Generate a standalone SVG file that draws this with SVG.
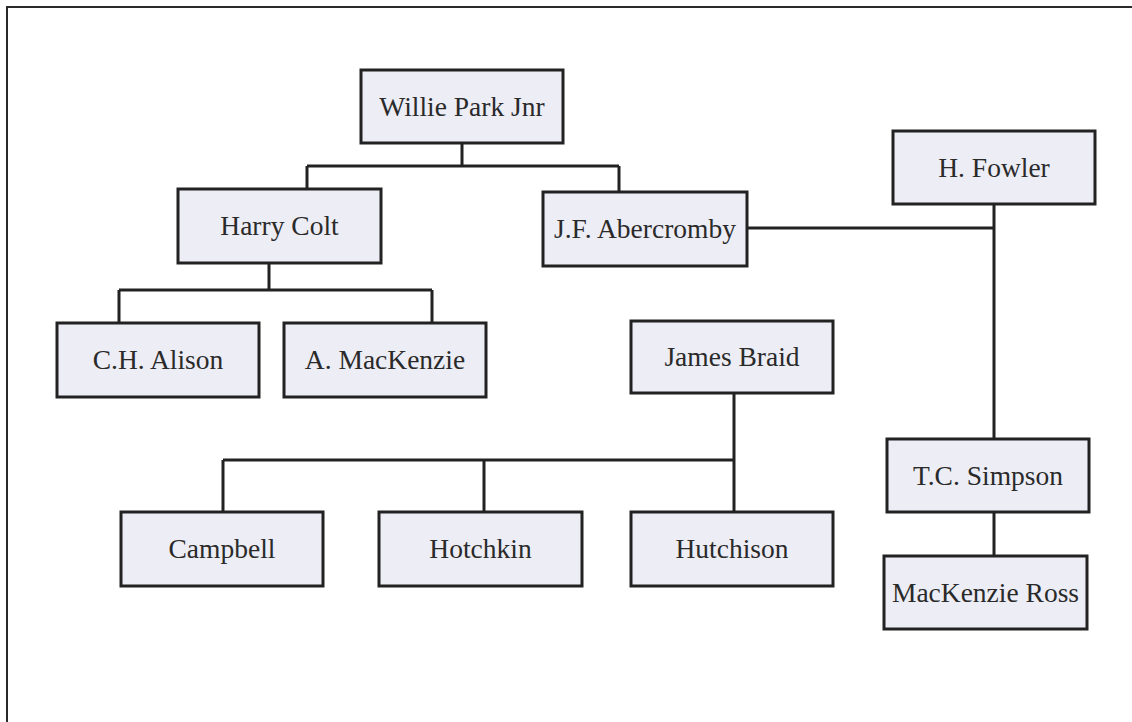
<svg xmlns="http://www.w3.org/2000/svg" width="1132" height="722" viewBox="0 0 1132 722">
<style>
.box{fill:#ededf5;stroke:#222;stroke-width:3}
.lbl{font-family:"Liberation Serif","DejaVu Serif",serif;font-size:27.5px;fill:#2a2a2a;text-anchor:middle}
.con{stroke:#222;stroke-width:3;fill:none}
</style>
<rect x="0" y="0" width="1132" height="722" fill="#fff"/>
<path d="M7 722V7H1132" fill="none" stroke="#2a2a2a" stroke-width="2"/>
<g id="connectors" class="con">
<path d="M462 143V166M307 166H619M307 166V189M619 166V192"/>
<path d="M269 263V290M119 290H432M119 290V323M432 290V323"/>
<path d="M747 228H994M994 204V439M994 512V556"/>
<path d="M734 393V512M223 460H734M223 460V512M484 460V512"/>
</g>
<g id="willie"><rect class="box" x="361" y="70" width="202" height="73"/><text class="lbl" x="462" y="116">Willie Park Jnr</text></g>
<g id="colt"><rect class="box" x="178" y="189" width="203" height="74"/><text class="lbl" x="279.5" y="235">Harry Colt</text></g>
<g id="abercromby"><rect class="box" x="543" y="192" width="204" height="74"/><text class="lbl" x="645" y="238">J.F. Abercromby</text></g>
<g id="fowler"><rect class="box" x="893" y="131" width="202" height="73"/><text class="lbl" x="994" y="177">H. Fowler</text></g>
<g id="alison"><rect class="box" x="57" y="323" width="202" height="74"/><text class="lbl" x="158" y="369">C.H. Alison</text></g>
<g id="mackenzie"><rect class="box" x="284" y="323" width="202" height="74"/><text class="lbl" x="385" y="369">A. MacKenzie</text></g>
<g id="braid"><rect class="box" x="631" y="321" width="202" height="72"/><text class="lbl" x="732" y="366">James Braid</text></g>
<g id="campbell"><rect class="box" x="121" y="512" width="202" height="74"/><text class="lbl" x="222" y="558">Campbell</text></g>
<g id="hotchkin"><rect class="box" x="379" y="512" width="203" height="74"/><text class="lbl" x="480.5" y="558">Hotchkin</text></g>
<g id="hutchison"><rect class="box" x="631" y="512" width="202" height="74"/><text class="lbl" x="732" y="558">Hutchison</text></g>
<g id="simpson"><rect class="box" x="887" y="439" width="202" height="73"/><text class="lbl" x="988" y="485">T.C. Simpson</text></g>
<g id="ross"><rect class="box" x="884" y="556" width="203" height="73"/><text class="lbl" x="985.5" y="602">MacKenzie Ross</text></g>
</svg>
